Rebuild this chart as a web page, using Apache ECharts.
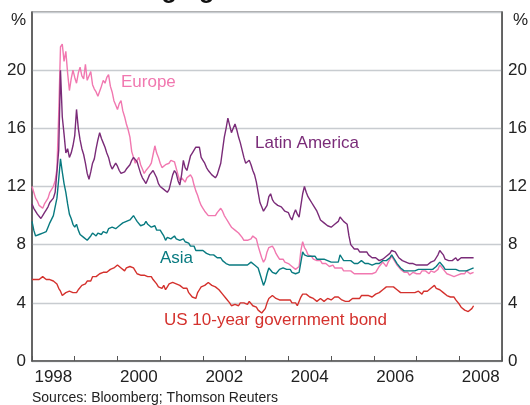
<!DOCTYPE html>
<html><head><meta charset="utf-8">
<script src="https://cdn.jsdelivr.net/npm/echarts@6/dist/echarts.min.js"></script>
<style>html,body{margin:0;padding:0;background:#fff}#c{width:530px;height:405px}</style>
</head><body><div id="c"></div>
<script>
// ---- data (semi-monthly readings, first point = start of 1998) ----
const yearLabels = ['1998','1999','2000','2001','2002','2003','2004','2005','2006','2007','2008'];
const yTicks = [0, 4, 8, 12, 16, 20, 24];
const startYear = 1998;
const pointsPerYear = 24;
const seriesNames = ['Europe', 'Latin America', 'Asia', 'US 10-year government bond'];

const europe = [
 12.0,11.6,11.2,11.0,10.7,10.6,10.5,10.8,10.9,11.2,11.6,11.5,12.0,12.4,13.2,17.0,21.6,21.8,20.6,21.3,19.8,18.6,19.4,20.0,
 19.5,19.1,19.8,20.2,19.6,19.4,20.4,19.3,19.6,19.9,19.0,18.7,18.5,18.2,18.1,18.9,19.3,19.1,19.5,19.7,18.9,18.5,17.9,17.6,
 17.3,17.7,17.9,17.2,16.8,16.3,15.9,15.4,14.4,14.0,13.6,13.8,14.0,13.5,13.2,12.9,13.1,13.0,13.4,13.6,14.2,14.8,14.3,14.0,
 13.6,13.3,13.4,13.5,13.4,13.6,13.8,13.9,13.7,13.6,12.8,12.4,12.6,12.5,12.3,12.6,12.7,12.8,12.6,12.1,11.7,11.4,11.0,10.7,
 10.5,10.3,10.2,10.0,10.1,10.0,9.9,10.0,10.2,10.3,10.5,10.3,10.0,9.8,9.6,9.4,9.2,9.1,9.0,8.9,8.8,8.7,8.5,8.3,
 8.2,8.3,8.2,8.4,8.6,8.7,8.4,7.9,7.5,7.1,6.8,7.0,7.5,7.8,7.7,7.9,7.7,7.4,7.2,7.0,6.9,7.0,6.8,6.7,
 6.7,6.6,6.5,6.4,6.3,6.3,6.5,7.6,8.2,7.8,7.6,7.3,7.4,7.2,7.0,7.1,6.9,6.8,6.9,6.7,6.6,6.7,6.6,6.5,
 6.5,6.6,6.4,6.5,6.4,6.3,6.4,6.2,6.3,6.2,6.1,6.2,6.1,6.0,6.1,6.0,5.9,6.0,5.9,6.0,6.1,6.0,5.9,6.0,
 6.0,6.1,6.3,6.5,6.6,6.8,6.7,6.5,6.8,6.9,7.2,7.0,6.8,6.6,6.5,6.3,6.2,6.1,6.0,6.1,5.9,6.0,6.1,6.0,
 6.0,6.1,6.0,6.2,6.1,6.2,6.1,6.0,6.2,6.3,6.1,6.2,6.3,6.6,6.5,6.3,6.2,6.0,6.1,5.9,6.0,5.8,5.9,5.9,
 5.9,6.0,6.1,6.0,6.2,6.1,6.0,6.1,6.1
];
const latinAmerica = [
 10.8,10.5,10.4,10.1,10.0,9.8,10.0,10.2,10.4,10.6,10.9,10.8,11.2,11.6,13.0,14.5,20.0,16.8,15.6,14.3,14.6,14.0,14.3,14.8,
 15.5,17.3,16.0,15.2,14.6,14.2,13.6,12.9,12.5,13.0,13.6,13.9,14.6,15.2,15.7,15.3,15.0,14.7,14.3,14.0,13.5,13.2,13.4,13.6,
 13.4,13.1,12.9,12.8,13.0,13.2,13.3,13.5,13.8,14.0,14.1,13.7,13.3,12.9,12.6,12.4,12.2,12.5,12.8,12.9,13.1,13.0,12.6,12.2,
 12.0,11.9,11.8,11.7,11.6,11.8,12.3,12.8,13.1,12.9,12.4,12.1,12.8,13.8,13.3,13.1,13.6,14.1,14.3,14.5,14.7,14.6,14.7,14.0,
 13.8,13.6,13.3,13.1,13.0,12.8,12.7,12.6,12.8,13.2,13.6,14.5,15.4,16.0,16.7,16.2,15.7,16.0,16.3,15.9,15.4,15.0,14.5,14.0,
 13.6,13.7,13.8,13.5,13.1,12.8,12.3,11.6,10.9,10.6,10.3,10.2,10.7,11.3,11.5,11.1,10.9,10.8,10.7,10.6,10.6,10.5,10.3,10.2,
 10.2,9.9,9.7,10.1,10.4,10.1,9.9,10.0,11.5,12.0,11.6,11.3,11.1,10.9,10.7,10.6,10.3,10.0,9.7,9.6,9.5,9.4,9.3,9.2,
 9.2,9.3,9.4,9.5,9.6,9.9,9.8,9.6,9.5,9.4,8.6,8.0,7.9,7.7,7.6,7.7,7.5,7.6,7.5,7.4,7.5,7.3,7.2,7.1,
 7.0,7.1,7.0,6.9,6.9,7.0,7.1,7.2,7.3,7.4,7.6,7.7,7.5,7.3,7.1,7.0,6.9,6.8,6.8,6.7,6.7,6.6,6.7,6.7,
 6.6,6.7,6.6,6.7,6.6,6.7,6.6,6.7,6.8,6.7,6.9,7.1,7.3,7.6,7.5,7.3,7.0,6.9,6.9,7.0,6.9,7.0,7.1,6.9,
 7.0,7.1,7.2,7.1,7.2,7.1,7.2,7.1,7.1
];
const asia = [
 9.6,9.0,8.6,8.5,8.7,8.6,8.8,8.7,8.9,9.2,9.5,9.6,10.0,10.6,11.2,12.5,13.9,13.0,12.2,11.6,10.8,10.1,9.8,9.4,
 9.2,9.4,9.0,8.7,8.8,8.5,8.6,8.3,8.4,8.6,8.8,8.9,8.6,8.8,8.9,8.7,8.9,9.0,8.8,9.1,9.0,9.2,9.3,9.1,
 9.2,9.3,9.4,9.5,9.4,9.6,9.5,9.7,9.8,10.0,9.8,9.6,9.5,9.3,9.2,9.4,9.6,9.4,9.5,9.2,9.1,9.3,9.0,8.9,
 9.0,8.8,8.6,8.3,8.5,8.6,8.4,8.5,8.6,8.4,8.5,8.3,8.2,8.4,8.2,8.3,8.1,7.9,7.8,7.9,7.6,7.7,7.6,7.5,
 7.6,7.5,7.4,7.5,7.3,7.4,7.3,7.2,7.1,7.0,7.1,6.9,6.8,6.7,6.8,6.6,6.7,6.6,6.5,6.6,6.5,6.6,6.5,6.6,
 6.7,6.6,6.7,6.8,6.7,6.6,6.7,6.4,6.0,5.6,5.2,5.5,6.0,6.4,6.3,6.1,6.2,6.0,6.1,6.3,6.2,6.4,6.5,6.3,
 6.2,6.3,6.1,6.2,6.0,5.9,6.1,6.8,7.5,7.3,7.4,7.2,7.3,7.2,7.1,7.2,7.0,7.1,7.0,6.9,7.0,7.1,6.9,6.8,
 6.8,6.7,6.8,6.7,6.8,7.3,7.1,6.9,6.8,6.9,6.8,6.9,6.8,6.7,6.8,6.7,6.8,6.9,6.8,6.7,6.8,6.7,6.6,6.6,
 6.6,6.7,6.6,6.7,6.8,6.9,6.8,6.9,7.0,7.1,7.3,7.1,6.9,6.7,6.6,6.4,6.3,6.2,6.1,6.2,6.1,6.2,6.1,6.2,
 6.2,6.3,6.2,6.3,6.2,6.3,6.2,6.3,6.4,6.3,6.4,6.5,6.6,6.8,6.7,6.5,6.3,6.2,6.3,6.2,6.3,6.2,6.3,6.2,
 6.2,6.3,6.2,6.3,6.2,6.3,6.3,6.4,6.4
];
const us10y = [
 5.6,5.5,5.6,5.7,5.6,5.7,5.8,5.7,5.6,5.7,5.6,5.5,5.5,5.4,5.3,5.0,4.8,4.5,4.4,4.7,4.6,4.8,4.7,4.7,
 4.8,4.7,4.9,5.0,5.2,5.1,5.3,5.5,5.6,5.5,5.8,5.9,5.8,5.9,6.0,5.9,6.1,6.0,6.1,6.2,6.3,6.2,6.4,6.5,
 6.6,6.7,6.4,6.5,6.2,6.4,6.3,6.5,6.6,6.4,6.2,6.0,6.1,5.9,6.0,5.9,5.9,5.8,5.7,5.8,5.6,5.5,5.3,5.1,
 5.1,5.0,5.2,4.9,5.1,5.3,5.2,5.4,5.5,5.3,5.4,5.2,5.1,5.0,4.9,5.0,4.7,4.6,4.4,4.4,4.3,4.7,4.9,5.1,
 5.0,5.2,5.3,5.4,5.3,5.2,5.3,5.1,5.0,4.9,4.8,4.6,4.5,4.3,4.2,4.0,3.8,3.7,3.9,4.0,3.8,4.0,4.1,4.0,
 4.0,3.9,4.1,4.0,3.8,3.9,3.7,3.5,3.5,3.3,3.4,3.6,4.0,4.3,4.4,4.5,4.4,4.3,4.4,4.2,4.3,4.2,4.3,4.2,
 4.1,4.2,4.0,3.9,4.0,3.8,3.9,4.4,4.6,4.7,4.6,4.5,4.4,4.5,4.3,4.2,4.1,4.2,4.3,4.2,4.1,4.2,4.3,4.2,
 4.2,4.3,4.4,4.5,4.4,4.3,4.2,4.1,4.1,4.0,4.1,4.2,4.3,4.2,4.3,4.4,4.3,4.5,4.4,4.5,4.4,4.5,4.4,4.4,
 4.5,4.6,4.6,4.7,4.8,4.9,5.0,5.1,5.2,5.1,5.0,5.1,5.0,4.9,4.8,4.7,4.8,4.7,4.6,4.7,4.6,4.7,4.6,4.7,
 4.7,4.8,4.7,4.6,4.8,4.9,4.8,4.9,5.0,5.1,5.2,5.0,5.1,4.9,4.8,4.7,4.6,4.5,4.6,4.4,4.3,4.4,4.2,4.1,
 3.9,3.7,3.8,3.5,3.6,3.4,3.5,3.6,3.8
];

// ---- build pairs for the library (x = decimal year) ----
function toPairs(arr) { return arr.map((v, i) => [startYear + i / pointsPerYear, v]); }

const FONT = "'Liberation Sans', Arial, Helvetica, sans-serif";
const colors = { europe: '#f178b0', latam: '#7a2b78', asia: '#087a80', us: '#d4312d' };

const chart = echarts.init(document.getElementById('c'), null, { renderer: 'canvas' });

function lineSeries(name, data, color) {
  return {
    name, type: 'line', xAxisIndex: 1, yAxisIndex: 0, data: toPairs(data),
    showSymbol: false, symbol: 'none', smooth: false,
    lineStyle: { color, width: 1.4 }, itemStyle: { color }, z: 3
  };
}

function txt(text, x, y, color, size, align, weight) {
  return {
    type: 'text', x, y, silent: true, z: 10,
    style: {
      text, fill: color, font: (weight || 'normal') + ' ' + size + 'px ' + FONT,
      align: align || 'left', verticalAlign: 'middle',
      textAlign: align || 'left', textVerticalAlign: 'middle'
    }
  };
}

const yAxisCommon = {
  type: 'value', min: yTicks[0], max: yTicks[yTicks.length - 1], interval: 4,
  axisLine: { show: true, lineStyle: { color: '#555', width: 1.5 } },
  axisTick: { show: false },
  axisLabel: { color: '#222', fontSize: 17, fontFamily: FONT, margin: 6,
               formatter: v => (v === 24 ? '' : String(v)) }
};

chart.setOption({
  animation: false,
  backgroundColor: '#fff',
  grid: { left: 32, right: 24, top: 12, bottom: 44, show: true, borderColor: '#555', borderWidth: 1.2 },
  xAxis: [
    {
      type: 'category', data: yearLabels, boundaryGap: true, position: 'bottom',
      axisLine: { show: true, lineStyle: { color: '#555', width: 1.5 } },
      axisTick: { show: true, inside: true, length: 5, interval: 0, alignWithLabel: false, lineStyle: { color: '#555', width: 1 } },
      axisLabel: { interval: 1, color: '#222', fontSize: 17, fontFamily: FONT, margin: 8 },
      splitLine: { show: false }
    },
    { type: 'value', min: 1998, max: 2009, show: false }
  ],
  yAxis: [
    Object.assign({}, yAxisCommon, { position: 'left', splitLine: { show: true, lineStyle: { color: '#c8ccd0', width: 1.3 } } }),
    Object.assign({}, yAxisCommon, { position: 'right', splitLine: { show: false } })
  ],
  series: [
    lineSeries(seriesNames[3], us10y, colors.us),
    lineSeries(seriesNames[0], europe, colors.europe),
    lineSeries(seriesNames[2], asia, colors.asia),
    lineSeries(seriesNames[1], latinAmerica, colors.latam)
  ],
  graphic: [
    txt('Emerging Market Bond Yields', 99, -9, '#111', 25, 'left', 'bold'),
    txt('%', 26, 20, '#222', 17, 'right'),
    txt('%', 513, 20, '#222', 17, 'left'),
    txt('Europe', 121, 82, colors.europe, 17),
    txt('Latin America', 255, 143, colors.latam, 17),
    txt('Asia', 160, 258, colors.asia, 17),
    txt('US 10-year government bond', 164, 320, colors.us, 17),
    txt('Sources: Bloomberg; Thomson Reuters', 32, 398, '#222', 14)
  ]
});
</script>
</body></html>
